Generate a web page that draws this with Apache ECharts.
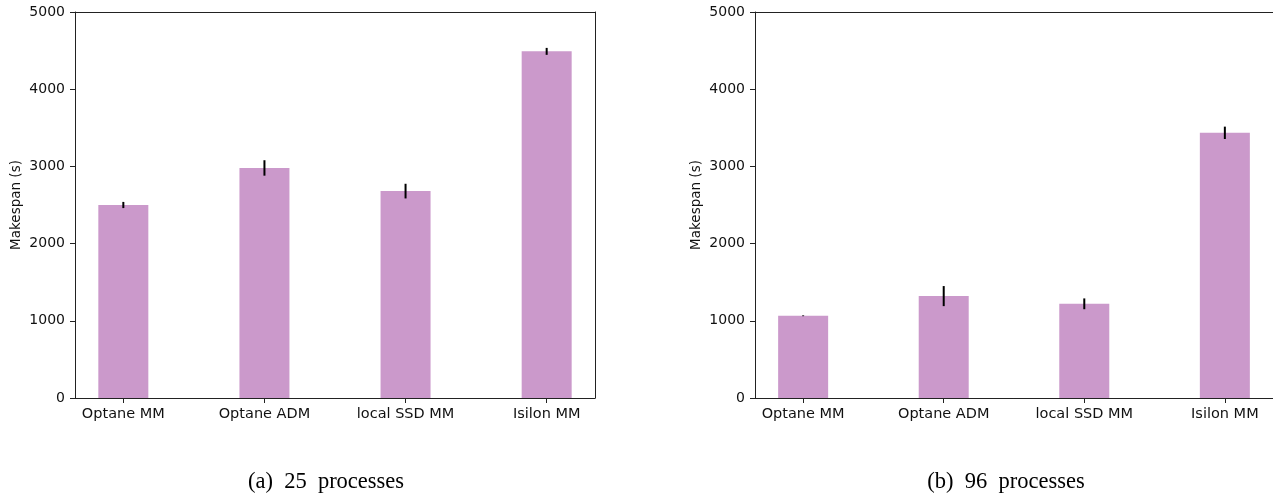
<!DOCTYPE html>
<html>
<head>
<meta charset="utf-8">
<script src="https://cdn.jsdelivr.net/npm/echarts@6/dist/echarts.min.js"></script>
<style>html,body{margin:0;padding:0;background:#fff}#c{width:1273px;height:495px}</style>
</head>
<body>
<div id="c"></div>
<script>
const categories = ['Optane MM', 'Optane ADM', 'local SSD MM', 'Isilon MM'];
const yTicks = [0, 1000, 2000, 3000, 4000, 5000];
const makespan25 = [2500, 2980, 2680, 4490];
const err25 = [40, 100, 95, 45];
const makespan96 = [1065, 1320, 1220, 3435];
const err96 = [5, 130, 70, 80];
const captions = ['(a)  25  processes', '(b)  96  processes'];

const FONT = 'DejaVu Sans';
const BAR = '#cb99cb';
const SPINE = '#222';
const idx = categories.map((c, i) => i);

function xAxis(gi) {
  return {
    type: 'value', gridIndex: gi, min: -0.3425, max: 3.3425,
    splitLine: { show: false },
    axisLine: { show: true, onZero: false, lineStyle: { color: SPINE, width: 1 } },
    axisTick: { show: true, length: 5, customValues: idx, lineStyle: { color: SPINE } },
    axisLabel: { customValues: idx, margin: 9, fontFamily: FONT, fontSize: 14.5, color: '#111',
      formatter: v => categories[Math.round(v)] }
  };
}
function spineX(gi) {
  return {
    type: 'value', gridIndex: gi, position: 'top', min: 0, max: 1,
    splitLine: { show: false }, axisTick: { show: false }, axisLabel: { show: false },
    axisLine: { show: true, onZero: false, lineStyle: { color: SPINE, width: 1 } }
  };
}
function spineY(gi) {
  return {
    type: 'value', gridIndex: gi, position: 'right', min: 0, max: 1,
    splitLine: { show: false }, axisTick: { show: false }, axisLabel: { show: false },
    axisLine: { show: true, onZero: false, lineStyle: { color: SPINE, width: 1 } }
  };
}
function yAxis(gi) {
  return {
    type: 'value', gridIndex: gi, min: yTicks[0], max: yTicks[yTicks.length - 1], interval: 1000,
    name: 'Makespan (s)', nameLocation: 'middle', nameGap: 52,
    nameTextStyle: { fontFamily: FONT, fontSize: 13.5, color: '#111' },
    splitLine: { show: false },
    axisLine: { show: true, onZero: false, lineStyle: { color: SPINE, width: 1 } },
    axisTick: { show: true, length: 5, lineStyle: { color: SPINE } },
    axisLabel: { margin: 10, fontFamily: FONT, fontSize: 14, color: '#111', formatter: v => String(v) }
  };
}
function bars(gi, vals) {
  return {
    type: 'bar', xAxisIndex: gi, yAxisIndex: gi, barWidth: 50,
    itemStyle: { color: BAR },
    data: vals.map((v, i) => [i, v]), silent: true, animation: false
  };
}
function errs(gi, vals, e) {
  return {
    type: 'custom', xAxisIndex: gi, yAxisIndex: gi, animation: false, silent: true,
    encode: { x: 0, y: 1 }, z: 5,
    data: vals.map((v, i) => [i, v, e[i]]),
    renderItem: function (params, api) {
      const x = api.value(0), v = api.value(1), d = api.value(2);
      const p1 = api.coord([x, v + d]);
      const p2 = api.coord([x, v - d]);
      return { type: 'line', shape: { x1: p1[0], y1: p1[1], x2: p2[0], y2: p2[1] },
        style: { stroke: '#000', lineWidth: 2 } };
    }
  };
}

const chart = echarts.init(document.getElementById('c'), null, { renderer: 'canvas' });
chart.setOption({
  animation: false,
  backgroundColor: '#fff',
  grid: [
    { left: 75, top: 12, width: 520, height: 386 },
    { left: 755, top: 12, width: 520, height: 386 }
  ],
  xAxis: [xAxis(0), xAxis(1), spineX(0), spineX(1)],
  yAxis: [yAxis(0), yAxis(1), spineY(0)],
  series: [bars(0, makespan25), errs(0, makespan25, err25), bars(1, makespan96), errs(1, makespan96, err96)],
  graphic: [
    { type: 'text', x: 326, y: 482, style: { text: captions[0], fontFamily: 'Liberation Serif', fontSize: 22.5, fill: '#000', align: 'center', verticalAlign: 'middle' } },
    { type: 'text', x: 1006, y: 482, style: { text: captions[1], fontFamily: 'Liberation Serif', fontSize: 22.5, fill: '#000', align: 'center', verticalAlign: 'middle' } }
  ]
});
</script>
</body>
</html>
